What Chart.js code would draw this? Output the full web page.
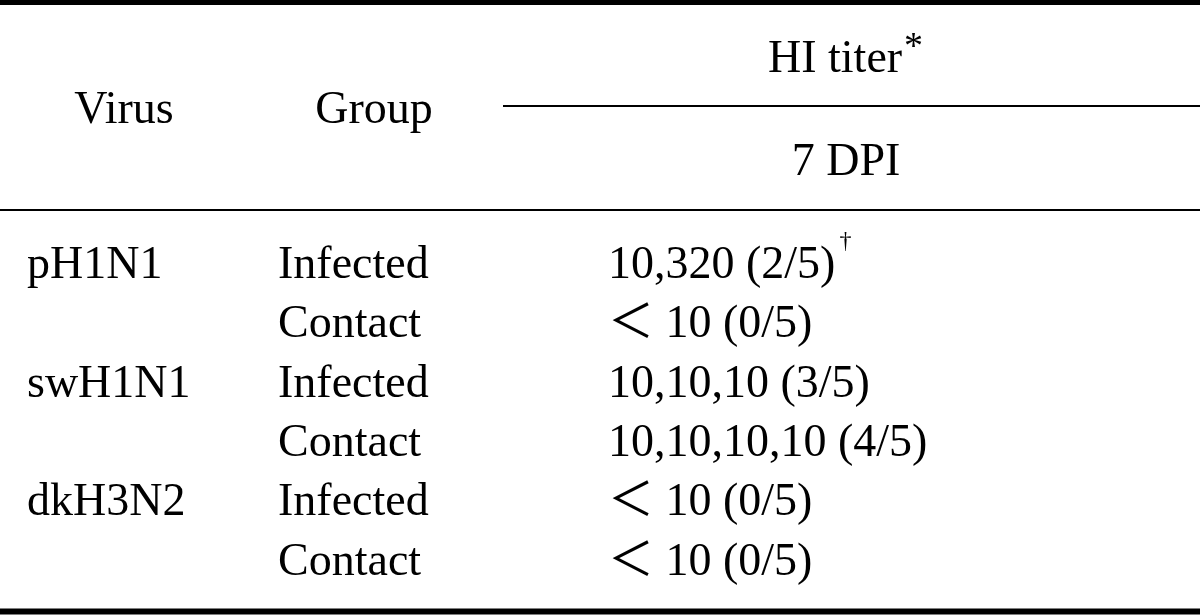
<!DOCTYPE html>
<html>
<head>
<meta charset="utf-8">
<script src="https://cdn.jsdelivr.net/npm/chart.js@4"></script>
<style>
  html, body { margin: 0; padding: 0; background: #fff; }
  #wrap { width: 1200px; height: 615px; }
</style>
</head>
<body>
<div id="wrap"><canvas id="tableChart" width="1200" height="615"></canvas></div>
<script>
// ---- table content ----
const headers = ['Virus', 'Group', 'HI titer', '7 DPI'];
const headerMarks = ['', '', '*', ''];
const viruses = ['pH1N1', '', 'swH1N1', '', 'dkH3N2', ''];
const groups = ['Infected', 'Contact', 'Infected', 'Contact', 'Infected', 'Contact'];
const titers = ['10,320 (2/5)', '＜ 10 (0/5)', '10,10,10 (3/5)', '10,10,10,10 (4/5)', '＜ 10 (0/5)', '＜ 10 (0/5)'];
const titerMarks = ['†', '', '', '', '', ''];

// ---- layout (canvas units) ----
const colX = [27, 278, 608];
const rowY = [278, 337, 397, 456, 515, 575];
const headerPos = [
    { x: 124, y: 123, align: 'center' },
    { x: 374, y: 123, align: 'center' },
    { x: 768, y: 72, align: 'left' },
    { x: 846, y: 175, align: 'center' }
];
const FONT = "46px 'Liberation Serif', 'Times New Roman', 'Noto Sans CJK JP', serif";

// one point per cell so the text sits on the chart's scales
const cellPoints = [];
rowY.forEach((y, i) => {
    cellPoints.push({ x: colX[0], y: y, text: viruses[i], mark: '' });
    cellPoints.push({ x: colX[1], y: y, text: groups[i], mark: '' });
    cellPoints.push({ x: colX[2], y: y, text: titers[i], mark: titerMarks[i] });
});
const headerPoints = headers.map((h, i) => ({
    x: headerPos[i].x, y: headerPos[i].y, text: h, mark: headerMarks[i], align: headerPos[i].align
}));

const rules = [
    { x0: 0, x1: 1200, y: 2.5, w: 5 },
    { x0: 503, x1: 1200, y: 106, w: 2 },
    { x0: 0, x1: 1200, y: 210, w: 2 },
    { x0: 0, x1: 1200, y: 611.5, w: 6 }
];

const tablePlugin = {
    id: 'tablePlugin',
    afterDatasetsDraw(chart) {
        const { ctx, scales: { x, y } } = chart;
        ctx.save();
        ctx.fillStyle = '#000';
        ctx.strokeStyle = '#000';

        // rules
        rules.forEach(r => {
            ctx.lineWidth = r.w;
            ctx.beginPath();
            ctx.moveTo(x.getPixelForValue(r.x0), y.getPixelForValue(r.y));
            ctx.lineTo(x.getPixelForValue(r.x1), y.getPixelForValue(r.y));
            ctx.stroke();
        });

        // text
        ctx.textBaseline = 'alphabetic';
        chart.data.datasets.forEach((ds, di) => {
            const meta = chart.getDatasetMeta(di);
            meta.data.forEach((el, i) => {
                const p = ds.data[i];
                if (!p.text) return;
                ctx.font = FONT;
                const w = ctx.measureText(p.text).width;
                const markW = p.mark ? 20 : 0;
                let left = el.x;
                if (p.align === 'center') left = el.x - (w + markW) / 2;
                ctx.textAlign = 'left';
                ctx.fillText(p.text, left, el.y);
                if (p.mark === '*') {
                    ctx.font = "38px 'Liberation Serif', serif";
                    ctx.fillText('*', left + w + 2, el.y - 14);
                } else if (p.mark) {
                    ctx.font = "24px 'Liberation Serif', serif";
                    ctx.fillText(p.mark, left + w + 4, el.y - 30);
                }
            });
        });
        ctx.restore();
    }
};

new Chart(document.getElementById('tableChart').getContext('2d'), {
    type: 'scatter',
    data: {
        datasets: [
            { label: 'header', data: headerPoints, pointRadius: 0 },
            { label: 'cells', data: cellPoints, pointRadius: 0 }
        ]
    },
    options: {
        responsive: false,
        animation: false,
        layout: { padding: 0 },
        plugins: { legend: { display: false }, tooltip: { enabled: false } },
        scales: {
            x: { type: 'linear', min: 0, max: 1200, display: false },
            y: { type: 'linear', min: 0, max: 615, reverse: true, display: false }
        }
    },
    plugins: [tablePlugin]
});
</script>
</body>
</html>
